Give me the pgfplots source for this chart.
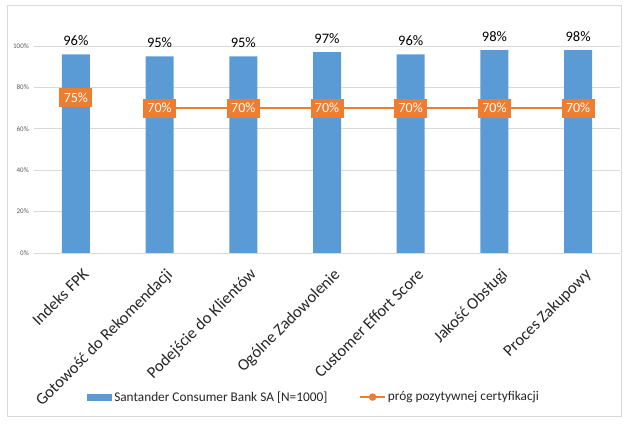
\documentclass[border=0pt]{standalone}
\usepackage{pgfplots}
\pgfplotsset{compat=1.18}
\usepackage{fontspec}
\setmainfont{Carlito}
\definecolor{xblue}{HTML}{5B9BD5}
\definecolor{xorange}{HTML}{ED7D31}
\definecolor{xgrid}{HTML}{D9D9D9}
\definecolor{xtext}{HTML}{595959}
\begin{document}
\begin{tikzpicture}[x=1pt,y=1pt]
\useasboundingbox (0,0) rectangle (628,425);
\draw[xgrid, line width=0.8pt] (7,8.5) rectangle (621,420);
\begin{axis}[
 /pgf/number format/assume math mode=true,
 at={(34pt,172pt)}, anchor=south west,
 scale only axis, width=586pt, height=207pt,
 xmin=-0.5, xmax=6.5, ymin=0, ymax=100,
 axis lines*=left,
 y axis line style={draw=none},
 x axis line style={xgrid, line width=0.8pt, -},
 ytick={0,20,...,100}, yticklabels={0\%,20\%,40\%,60\%,80\%,100\%},
 yticklabel style={font=\fontsize{7}{8}\selectfont, text=xtext, inner sep=1pt, xshift=-4pt},
 ytick style={draw=none},
 ymajorgrids, grid style={xgrid, line width=0.8pt},
 xtick={0,...,6},
 xticklabels={Indeks FPK, Gotowość do Rekomendacji, Podejście do Klientów, Ogólne Zadowolenie, Customer Effort Score, Jakość Obsługi, Proces Zakupowy},
 xticklabel style={rotate=45, anchor=north east, font=\fontsize{16.5}{18}\selectfont, text=black!85, inner sep=1pt, yshift=-13pt, xshift=-5pt},
 xtick style={draw=none},
 extra x ticks={-0.5,0.5,...,6.5},
 extra x tick labels={},
 extra x tick style={grid=none, major tick length=5pt, tick align=outside, tick style={draw=xgrid, line width=0.8pt}},
 clip=false,
 legend columns=2,
 legend cell align=left,
 legend style={draw=none, at={(0.478,-0.696)}, anchor=center, font=\fontsize{13.3}{15}\selectfont, text=black!85,
   /tikz/every even column/.append style={column sep=30pt}},
]
\addplot[ybar, bar width=28pt, fill=xblue, draw=none,
  nodes near coords={\pgfmathprintnumber{\pgfplotspointmeta}\%},
  nodes near coords style={font=\fontsize{14.5}{16}\selectfont, text=black, anchor=south, yshift=5pt},
  legend image code/.code={\fill[xblue] (0pt,-3.5pt) rectangle (25pt,3.5pt);}]
  coordinates {(0,96) (1,95) (2,95) (3,97) (4,96) (5,98) (6,98)};
\addlegendentry{Santander Consumer Bank SA [N=1000]}
\addplot[xorange, line width=2pt, mark=none,
  nodes near coords={\pgfmathprintnumber{\pgfplotspointmeta}\%},
  nodes near coords style={anchor=center, fill=xorange, text=white, font=\fontsize{14}{16}\selectfont, minimum width=33pt, minimum height=19pt, inner sep=0pt},
  legend image code/.code={\draw[xorange, line width=1.5pt] (0pt,0pt)--(25pt,0pt); \fill[xorange] (12.5pt,0pt) circle (2.7pt);}]
  coordinates {(1,70) (2,70) (3,70) (4,70) (5,70) (6,70)};
\addlegendentry{próg pozytywnej certyfikacji}
\addplot[forget plot, only marks, mark=none, draw=none,
  nodes near coords={\pgfmathprintnumber{\pgfplotspointmeta}\%},
  nodes near coords style={anchor=center, fill=xorange, text=white, font=\fontsize{14}{16}\selectfont, minimum width=33pt, minimum height=19pt, inner sep=0pt}]
  coordinates {(0,75)};
\end{axis}
\end{tikzpicture}
\end{document}
